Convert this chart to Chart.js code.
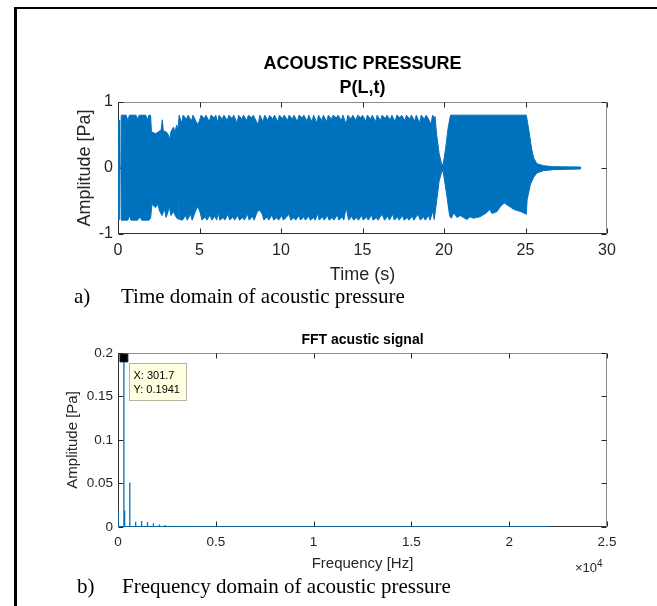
<!DOCTYPE html>
<html>
<head>
<meta charset="utf-8">
<script src="https://cdn.jsdelivr.net/npm/chart.js@4.4.1/dist/chart.umd.min.js"></script>
<style>
	html, body { margin: 0; padding: 0; background: #fff; }
	body { width: 657px; height: 606px; position: relative; overflow: hidden; }
	#frame { position: absolute; left: 14px; top: 7px; width: 700px; height: 700px;
		border-left: 3px solid #000; border-top: 2px solid #000; }
	canvas { position: absolute; left: 0; }
	#chart1 { top: 40px; }
	#chart2 { top: 330px; }
	.caption { position: absolute; font-family: 'Liberation Serif', 'Times New Roman', serif;
		font-size: 21px; line-height: 24px; color: #000; white-space: nowrap; }
	#exponent { position: absolute; left: 575px; top: 560px; font-family: 'Liberation Sans', Arial, sans-serif;
		font-size: 13px; line-height: 16px; color: #262626; }
	#exponent sup { font-size: 10px; vertical-align: 5px; line-height: 0; }
</style>
</head>
<body>
<div id="frame"></div>
<canvas id="chart1" width="657" height="250"></canvas>
<canvas id="chart2" width="657" height="250"></canvas>
<div class="caption" style="left:74px; top:284px;">a)</div>
<div class="caption" style="left:121px; top:284px;">Time domain of acoustic pressure</div>
<div class="caption" style="left:77px; top:574px;">b)</div>
<div class="caption" style="left:122px; top:574px;">Frequency domain of acoustic pressure</div>
<div id="exponent">&times;10<sup>4</sup></div>
<script>
(() => {
	'use strict'

	// Upper envelope of the pressure signal P(L,t)
	const upperTimeS = [
		0, 0.02, 0.08, 0.10, 0.18, 0.20, 0.50, 0.60, 0.70, 1.10,
		1.20, 1.30, 1.70, 1.80, 1.90, 2.00, 2.05, 2.30, 2.50, 2.65,
		2.72, 2.78, 2.95, 3.10, 3.18, 3.25, 3.40, 3.50, 3.60, 3.68,
		3.75, 3.9, 4.0, 4.2, 4.3, 4.5, 4.6, 4.8, 4.9, 5.0,
		5.1, 5.3, 5.4, 5.6, 5.7, 5.9, 6.0, 6.1, 6.2, 6.4,
		6.5, 6.7, 6.8, 7.0, 7.1, 7.3, 7.4, 7.6, 7.7, 7.9,
		8.0, 8.2, 8.3, 8.5, 8.6, 8.7, 8.9, 9.0, 9.2, 9.3,
		9.5, 9.6, 9.8, 9.9, 10.1, 10.2, 10.4, 10.5, 10.7, 10.8,
		11.0, 11.1, 11.3, 11.4, 11.6, 11.7, 11.9, 12.0, 12.2, 12.3,
		12.5, 12.6, 12.8, 12.9, 13.1, 13.2, 13.4, 13.5, 13.7, 13.8,
		14.0, 14.1, 14.3, 14.4, 14.6, 14.7, 14.9, 15.0, 15.2, 15.3,
		15.5, 15.6, 15.8, 15.9, 16.1, 16.2, 16.4, 16.5, 16.7, 16.8,
		17.0, 17.1, 17.3, 17.4, 17.6, 17.7, 17.9, 18.0, 18.2, 18.3,
		18.5, 18.6, 18.8, 18.9, 19.1, 19.2, 19.3, 19.4, 19.45, 19.55,
		19.70, 19.85, 19.95, 20.10, 20.25, 20.40, 25.05, 25.20, 25.37, 25.50,
		25.70, 26.10, 26.70, 28.37, 28.38
	];
	const upperPa = [
		0, 0.72, 0.72, 0, 0, 0.80, 0.80, 0.72, 0.80, 0.80,
		0.74, 0.80, 0.80, 0.73, 0.80, 0.80, 0.55, 0.52, 0.55, 0.58,
		0.73, 0.56, 0.55, 0.50, 0.43, 0.55, 0.62, 0.55, 0.65, 0.58,
		0.80, 0.68, 0.80, 0.74, 0.80, 0.71, 0.80, 0.70, 0.66, 0.72,
		0.80, 0.75, 0.80, 0.70, 0.80, 0.76, 0.80, 0.69, 0.80, 0.74,
		0.80, 0.72, 0.80, 0.75, 0.80, 0.68, 0.80, 0.74, 0.80, 0.72,
		0.80, 0.76, 0.80, 0.70, 0.66, 0.80, 0.70, 0.80, 0.72, 0.80,
		0.74, 0.80, 0.70, 0.80, 0.75, 0.80, 0.72, 0.80, 0.74, 0.80,
		0.70, 0.80, 0.76, 0.80, 0.71, 0.80, 0.70, 0.80, 0.68, 0.80,
		0.72, 0.80, 0.70, 0.80, 0.74, 0.80, 0.76, 0.80, 0.72, 0.80,
		0.66, 0.80, 0.74, 0.80, 0.72, 0.80, 0.76, 0.80, 0.71, 0.80,
		0.74, 0.80, 0.70, 0.80, 0.72, 0.80, 0.75, 0.80, 0.73, 0.80,
		0.70, 0.80, 0.76, 0.80, 0.72, 0.80, 0.74, 0.80, 0.71, 0.80,
		0.68, 0.80, 0.74, 0.80, 0.72, 0.66, 0.80, 0.76, 0.78, 0.50,
		0.22, 0.06, 0.05, 0.30, 0.60, 0.80, 0.80, 0.58, 0.30, 0.15,
		0.065, 0.035, 0.02, 0.015, 0
	];

	// Lower envelope of the pressure signal
	const lowerTimeS = [
		0, 0.02, 0.08, 0.10, 0.18, 0.20, 0.60, 0.70, 0.80, 1.20,
		1.35, 1.45, 1.90, 2.00, 2.08, 2.30, 2.45, 2.55, 2.70, 2.85,
		2.95, 3.05, 3.15, 3.25, 3.40, 3.55, 3.70, 3.75, 3.80, 3.95,
		4.15, 4.25, 4.45, 4.55, 4.75, 4.90, 5.05, 5.15, 5.35, 5.45,
		5.65, 5.75, 5.95, 6.05, 6.15, 6.25, 6.45, 6.55, 6.75, 6.85,
		7.05, 7.15, 7.35, 7.45, 7.65, 7.75, 7.95, 8.05, 8.25, 8.35,
		8.55, 8.70, 8.85, 8.95, 9.15, 9.25, 9.45, 9.55, 9.75, 9.85,
		10.05, 10.15, 10.35, 10.50, 10.60, 10.80, 10.90, 11.10, 11.20, 11.40,
		11.50, 11.70, 11.80, 12.00, 12.10, 12.25, 12.35, 12.55, 12.65, 12.85,
		12.95, 13.15, 13.25, 13.45, 13.55, 13.75, 13.85, 14.00, 14.15, 14.35,
		14.45, 14.65, 14.75, 14.95, 15.05, 15.25, 15.35, 15.55, 15.65, 15.85,
		15.95, 16.20, 16.35, 16.55, 16.65, 16.85, 16.95, 17.15, 17.25, 17.45,
		17.55, 17.75, 17.85, 18.05, 18.15, 18.40, 18.55, 18.75, 18.85, 19.05,
		19.15, 19.30, 19.40, 19.55, 19.70, 19.85, 19.95, 20.15, 20.35, 20.45,
		20.60, 20.80, 21.00, 21.40, 21.60, 21.80, 22.20, 22.60, 22.80, 22.95,
		23.25, 23.47, 23.70, 24.00, 24.30, 24.70, 25.05, 25.10, 25.30, 25.50,
		25.70, 26.10, 26.70, 28.37, 28.38
	];
	const lowerPa = [
		0, -0.78, -0.78, 0, 0, -0.79, -0.79, -0.72, -0.79, -0.79,
		-0.74, -0.79, -0.79, -0.76, -0.55, -0.60, -0.55, -0.65, -0.72, -0.62,
		-0.75, -0.68, -0.58, -0.72, -0.66, -0.74, -0.78, -0.45, -0.78, -0.79,
		-0.72, -0.79, -0.70, -0.79, -0.66, -0.58, -0.68, -0.79, -0.74, -0.79,
		-0.71, -0.79, -0.73, -0.79, -0.68, -0.79, -0.75, -0.79, -0.70, -0.79,
		-0.74, -0.79, -0.72, -0.79, -0.75, -0.79, -0.70, -0.79, -0.73, -0.79,
		-0.66, -0.64, -0.70, -0.79, -0.74, -0.79, -0.71, -0.79, -0.75, -0.79,
		-0.72, -0.79, -0.74, -0.70, -0.79, -0.75, -0.79, -0.72, -0.79, -0.74,
		-0.79, -0.73, -0.79, -0.75, -0.79, -0.69, -0.79, -0.74, -0.79, -0.72,
		-0.79, -0.75, -0.79, -0.71, -0.79, -0.74, -0.79, -0.60, -0.79, -0.73,
		-0.79, -0.75, -0.79, -0.72, -0.79, -0.74, -0.79, -0.71, -0.79, -0.75,
		-0.79, -0.70, -0.79, -0.73, -0.79, -0.70, -0.79, -0.74, -0.79, -0.72,
		-0.79, -0.75, -0.79, -0.73, -0.79, -0.70, -0.79, -0.74, -0.79, -0.72,
		-0.79, -0.65, -0.78, -0.50, -0.20, -0.06, -0.05, -0.38, -0.73, -0.76,
		-0.68, -0.75, -0.72, -0.78, -0.74, -0.76, -0.74, -0.68, -0.63, -0.69,
		-0.66, -0.58, -0.53, -0.58, -0.63, -0.66, -0.70, -0.48, -0.25, -0.14,
		-0.075, -0.04, -0.025, -0.015, 0
	];

	// FFT peaks (harmonics of 301.7 Hz) and the end of the spectrum
	const fftFreqHz = [0, 301.7, 340, 603.4, 905.1, 1206.8, 1508.5, 1810.2, 2111.9, 2413.6, 2715.3, 3017, 3318.7, 3620.4, 3922.1, 4223.8, 4525.5];
	const fftAmpPa = [0.018, 0.1941, 0.019, 0.051, 0.006, 0.007, 0.0054, 0.0042, 0.003, 0.0023, 0.0015, 0.0012, 0.001, 0.0008, 0.0006, 0.0005, 0.0004];
	const fftEndHz = 22050;

	// Data tip
	const tipX = 301.7;
	const tipY = 0.1941;

	// Tick labels
	const timeTicks = [0, 5, 10, 15, 20, 25, 30];
	const freqTickLabels = ['0', '0.5', '1', '1.5', '2', '2.5'];
	const ampTickLabels = ['0', '0.05', '0.1', '0.15', '0.2'];

	const blue = '#0072BD';
	const axisColor = '#262626';

	Chart.defaults.font.family = "'Liberation Sans', Arial, Helvetica, sans-serif";
	Chart.defaults.color = axisColor;

	// zip two arrays into {x, y} points
	function zip(xs, ys) {
		return xs.map((x, i) => ({ x: x, y: ys[i] }));
	}

	// MATLAB style box with inward ticks on all four sides
	const matlabBox = {
		id: 'matlabBox',
		beforeDatasetsDraw(chart) {
			const { ctx, chartArea: a, scales } = chart;
			const l = Math.round(a.left) + 0.5, r = Math.round(a.right) - 0.5;
			const t = Math.round(a.top) + 0.5, b = Math.round(a.bottom) - 0.5;
			ctx.save();
			ctx.lineWidth = 1;
			ctx.strokeStyle = '#8c8c8c';
			ctx.beginPath();
			ctx.moveTo(l, t); ctx.lineTo(r, t); ctx.lineTo(r, b);
			ctx.stroke();
			ctx.strokeStyle = '#303030';
			ctx.beginPath();
			ctx.moveTo(l, t); ctx.lineTo(l, b); ctx.lineTo(r, b);
			ctx.stroke();
			ctx.strokeStyle = axisColor;
			ctx.beginPath();
			scales.x.ticks.forEach((tk) => {
				const px = Math.round(scales.x.getPixelForValue(tk.value)) + 0.5;
				ctx.moveTo(px, b); ctx.lineTo(px, b - 5);
				ctx.moveTo(px, t); ctx.lineTo(px, t + 5);
			});
			scales.y.ticks.forEach((tk) => {
				const py = Math.round(scales.y.getPixelForValue(tk.value)) + 0.5;
				ctx.moveTo(l, py); ctx.lineTo(l + 5, py);
				ctx.moveTo(r, py); ctx.lineTo(r - 5, py);
			});
			ctx.stroke();
			ctx.restore();
		}
	};

	// Data tip label box next to the marked peak
	const dataTip = {
		id: 'dataTip',
		afterDatasetsDraw(chart) {
			const { ctx, scales } = chart;
			const px = scales.x.getPixelForValue(tipX);
			const py = scales.y.getPixelForValue(tipY);
			const bx = Math.round(px + 5) + 0.5, by = Math.round(py + 5) + 0.5;
			ctx.save();
			ctx.fillStyle = '#ffffe1';
			ctx.strokeStyle = '#b4b4a0';
			ctx.lineWidth = 1;
			ctx.fillRect(bx, by, 57, 37);
			ctx.strokeRect(bx, by, 57, 37);
			ctx.fillStyle = '#000';
			ctx.font = "11px 'Liberation Sans', Arial, sans-serif";
			ctx.textBaseline = 'middle';
			ctx.fillText('X: ' + tipX, bx + 4, by + 12);
			ctx.fillText('Y: ' + tipY, bx + 4, by + 26);
			ctx.restore();
		}
	};

	/******************** Chart 1: time domain ********************/
	const chart1 = document.getElementById('chart1');
	new Chart(chart1, {
		type: 'line',
		data: {
			datasets: [{
				data: zip(upperTimeS, upperPa),
				borderColor: blue,
				backgroundColor: blue,
				borderWidth: 1,
				fill: 'origin'
			}, {
				data: zip(lowerTimeS, lowerPa),
				borderColor: blue,
				backgroundColor: blue,
				borderWidth: 1,
				fill: 'origin'
			}]
		},
		options: {
			responsive: false,
			animation: false,
			devicePixelRatio: 1,
			elements: { point: { radius: 0 }, line: { tension: 0 } },
			layout: { padding: { left: 74, right: 50, top: 0, bottom: 0 } },
			plugins: {
				legend: { display: false },
				tooltip: { enabled: false },
				title: {
					display: true,
					text: ['ACOUSTIC PRESSURE', 'P(L,t)'],
					color: '#000',
					fullSize: false,
					font: { size: 18, weight: 'bold', lineHeight: 1.333 },
					padding: { top: 12, bottom: 2 }
				}
			},
			scales: {
				x: {
					type: 'linear',
					min: 0,
					max: 30,
					afterBuildTicks: (s) => { s.ticks = timeTicks.map((v) => ({ value: v })); },
					afterFit: (s) => { s.height = 56; },
					grid: { display: false, drawTicks: false },
					border: { display: false },
					ticks: { font: { size: 16 }, padding: 7, maxRotation: 0 },
					title: { display: true, text: 'Time (s)', font: { size: 18 }, padding: { top: 0, bottom: 4 } }
				},
				y: {
					min: -1,
					max: 1,
					afterFit: (s) => { s.width = 44; },
					grid: { display: false, drawTicks: false },
					border: { display: false },
					ticks: { stepSize: 1, font: { size: 16 }, padding: 5 },
					title: { display: true, text: 'Amplitude [Pa]', font: { size: 18 }, padding: 0 }
				}
			}
		},
		plugins: [matlabBox]
	});

	/******************** Chart 2: frequency domain ********************/
	// each peak is drawn as a thin vertical line from the baseline
	const spectrum = [];
	fftFreqHz.forEach((f, i) => {
		spectrum.push({ x: f, y: 0 }, { x: f, y: fftAmpPa[i] }, { x: f, y: 0 });
	});
	spectrum.push({ x: fftEndHz, y: 0 });

	const chart2 = document.getElementById('chart2');
	new Chart(chart2, {
		type: 'line',
		data: {
			datasets: [{
				data: [{ x: tipX, y: tipY }],
				showLine: false,
				pointStyle: 'rect',
				pointRadius: 5.6,
				pointBackgroundColor: '#000',
				pointBorderColor: '#222',
				pointBorderWidth: 1
			}, {
				data: spectrum,
				borderColor: blue,
				borderWidth: 1.3,
				pointRadius: 0,
				fill: false
			}]
		},
		options: {
			responsive: false,
			animation: false,
			devicePixelRatio: 1,
			elements: { line: { tension: 0 } },
			layout: { padding: { left: 64, right: 50, top: 0, bottom: 0 } },
			plugins: {
				legend: { display: false },
				tooltip: { enabled: false },
				title: {
					display: true,
					text: 'FFT acustic signal',
					color: '#000',
					fullSize: false,
					font: { size: 14, weight: 'bold' },
					padding: { top: 2, bottom: 4 }
				}
			},
			scales: {
				x: {
					type: 'linear',
					min: 0,
					max: 25000,
					afterFit: (s) => { s.height = 53; },
					grid: { display: false, drawTicks: false },
					border: { display: false },
					ticks: {
						stepSize: 5000,
						font: { size: 13.5 },
						padding: 7,
						maxRotation: 0,
						callback: (v, i) => freqTickLabels[i]
					},
					title: { display: true, text: 'Frequency [Hz]', font: { size: 15 }, padding: { top: 0, bottom: 7 } }
				},
				y: {
					min: 0,
					max: 0.2,
					afterFit: (s) => { s.width = 54; },
					grid: { display: false, drawTicks: false },
					border: { display: false },
					ticks: {
						stepSize: 0.05,
						font: { size: 13.5 },
						padding: 5,
						callback: (v, i) => ampTickLabels[i]
					},
					title: { display: true, text: 'Amplitude [Pa]', font: { size: 15 }, padding: 0 }
				}
			}
		},
		plugins: [matlabBox, dataTip]
	});
})()
</script>
</body>
</html>
